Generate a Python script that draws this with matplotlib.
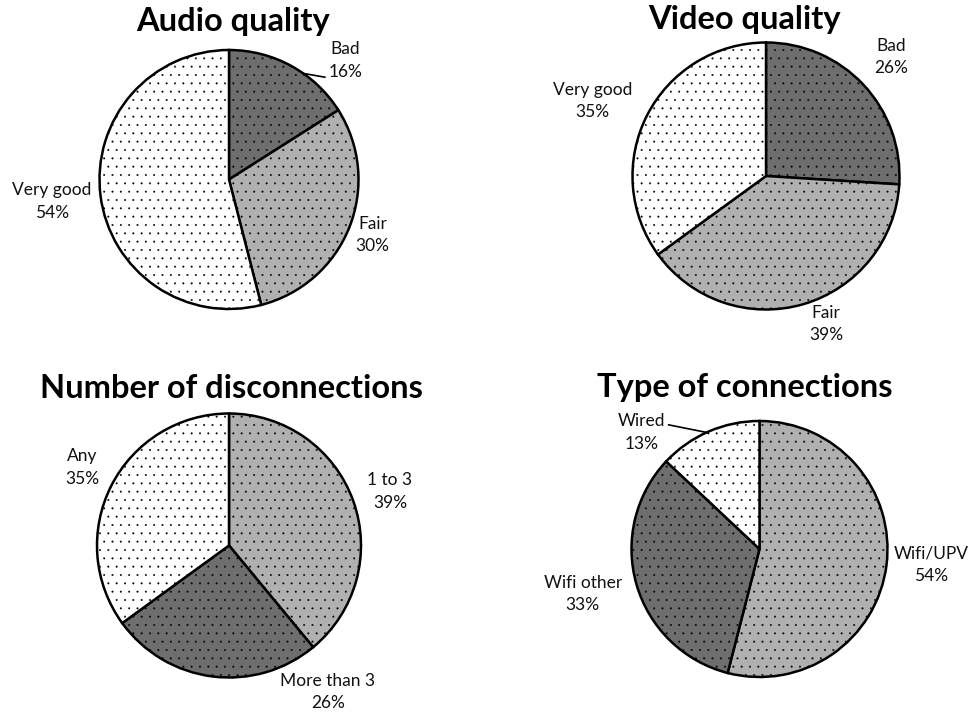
import matplotlib
matplotlib.use('Agg')
import matplotlib.pyplot as plt

W, H = 969, 713

# survey results, clockwise from 12 o'clock
audio_labels = ['Bad', 'Fair', 'Very good']
audio_values = [16, 30, 54]

video_labels = ['Bad', 'Fair', 'Very good']
video_values = [26, 39, 35]

disc_labels = ['1 to 3', 'More than 3', 'Any']
disc_values = [39, 26, 35]

conn_labels = ['Wifi/UPV', 'Wifi other', 'Wired']
conn_values = [54, 33, 13]

DARK = '#6e6e6e'
LIGHT = '#b0b0b0'
WHITE = '#ffffff'

plt.rcParams['font.family'] = ['Lato', 'DejaVu Sans']
plt.rcParams['hatch.color'] = '#3a3a3a'
plt.rcParams['hatch.linewidth'] = 0.2

fig = plt.figure(figsize=(W / 100, H / 100), dpi=100)


def add_pie(cx, cy, r, values, labels, colors, label_pos, leaders=None):
    # axes placed in pixel terms so each pie has radius r px at (cx, cy)
    k = 2.0
    ax = fig.add_axes([(cx - r * k) / W, 1 - (cy + r * k) / H,
                       2 * r * k / W, 2 * r * k / H])
    wedges, _ = ax.pie(values, colors=colors, startangle=90, counterclock=False,
                       radius=1.0,
                       wedgeprops=dict(edgecolor='black', linewidth=1.8))
    for w in wedges:
        w.set_hatch('..')
    for lab, val, (x, y) in zip(labels, values, label_pos):
        ax.text(x, y, f'{lab}\n{val}%', ha='center', va='center',
                fontsize=12.5, linespacing=1.5, color='#111111')
    for (x0, y0), (x1, y1) in (leaders or []):
        ax.plot([x0, x1], [y0, y1], color='black', lw=1.2)
    ax.set_xlim(-k, k)
    ax.set_ylim(-k, k)
    ax.set_aspect('equal')
    ax.axis('off')
    return ax


add_pie(229, 179.5, 129.5, audio_values, audio_labels, [DARK, LIGHT, WHITE],
        [(0.90, 0.92), (1.11, -0.43), (-1.37, -0.17)],
        leaders=[((0.74, 0.79), (0.57, 0.82))])
add_pie(766, 176, 133.5, video_values, video_labels, [DARK, LIGHT, WHITE],
        [(0.94, 0.89), (0.45, -1.11), (-1.30, 0.56)])
add_pie(229, 545.5, 132, disc_values, disc_labels, [LIGHT, DARK, WHITE],
        [(1.22, 0.41), (0.75, -1.11), (-1.11, 0.59)])
add_pie(759.5, 549, 128, conn_values, conn_labels, [LIGHT, DARK, WHITE],
        [(1.34, -0.125), (-1.38, -0.35), (-0.92, 0.91)],
        leaders=[((-0.71, 0.97), (-0.41, 0.91))])

titles = [('Audio quality', 233, 22), ('Video quality', 744, 20),
          ('Number of disconnections', 231, 388), ('Type of connections', 745, 388)]
for t, x, y in titles:
    fig.text(x / W, 1 - y / H, t, ha='center', va='center',
             fontsize=23.5, fontweight='bold', color='black')

fig.savefig('out.png', dpi=100, facecolor='white')
